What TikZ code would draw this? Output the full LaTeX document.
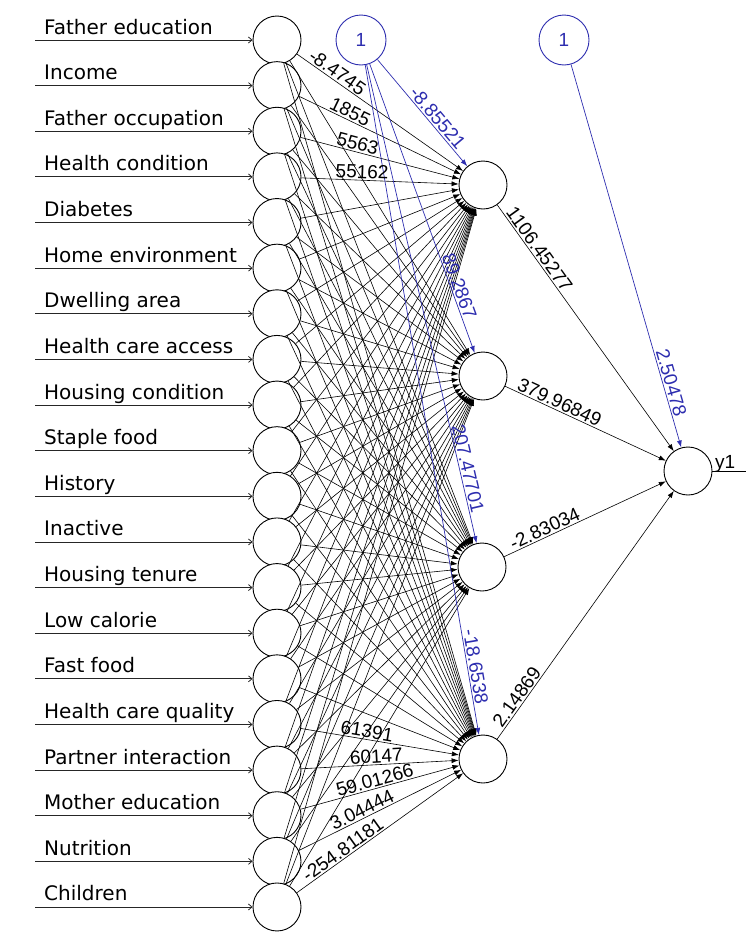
\documentclass[tikz,border=0pt]{standalone}
\usepackage{fontspec}
\setmainfont{Liberation Sans}
\newfontfamily\labfont{DejaVu Sans}
\usetikzlibrary{arrows.meta,calc}
\definecolor{biasblue}{RGB}{45,45,175}
\newcommand\putw[6]{\path let \p1=($(#4)-(#3)$), \n1={atan2(\y1,\x1)} in node[#1,rotate=\n1] (#2) at ($(#3)!#5!(#4)$) {#6};}
\begin{document}
\begin{tikzpicture}[x=1pt,y=-1pt,
  neuron/.style={circle,draw=black,line width=0.9pt,fill=white,minimum size=48pt,inner sep=0pt},
  biasnode/.style={circle,draw=biasblue,line width=0.9pt,fill=white,minimum size=50pt,inner sep=0pt,text=biasblue,font=\fontsize{19}{22}\selectfont},
  syn/.style={draw=black,line width=0.6pt,-{Latex[length=7pt,width=5pt]}},
  bsyn/.style={draw=biasblue,line width=0.7pt,-{Latex[length=7pt,width=5pt]}},
  inarrow/.style={draw=black!85,line width=0.8pt,-{Straight Barb[length=3.5pt,width=6pt]}},
  inlabel/.style={font=\labfont\fontsize{20}{24}\selectfont,anchor=base west,inner sep=0pt},
  wlab/.style={font=\fontsize{19}{22}\selectfont,inner sep=1.5pt},
  ws/.style={wlab,anchor=south west},
  we/.style={wlab,anchor=south east},
  bws/.style={ws,text=biasblue},
]
\useasboundingbox (0,0) rectangle (746,940);
% input layer
\foreach \t [count=\i] in {Father education,Income,Father occupation,Health condition,Diabetes,Home environment,Dwelling area,Health care access,Housing condition,Staple food,History,Inactive,Housing tenure,Low calorie,Fast food,Health care quality,Partner interaction,Mother education,Nutrition,Children}{
  \pgfmathsetmacro\yy{40+45.63*(\i-1)}
  \node[neuron] (in\i) at (277,\yy) {};
  \coordinate (s\i) at (35,\yy);
  \node[inlabel] (lab\i) at (44,\yy-6) {\t};
  \draw[inarrow] (s\i) -- (in\i);
}
% hidden layer
\node[neuron] (h1) at (483,185) {};
\node[neuron] (h2) at (483,376) {};
\node[neuron] (h3) at (482,567) {};
\node[neuron] (h4) at (483,759) {};
% output
\node[neuron] (out) at (688,471) {};
% bias
\node[biasnode] (b1) at (361,40) {1};
\node[biasnode] (b2) at (564,40) {1};
% synapses
\foreach \i in {1,...,20}{\foreach \k in {1,...,4}{\draw[syn] (in\i) -- (h\k);}}
\foreach \k in {1,...,4}{\draw[bsyn] (b1) -- (h\k); \draw[syn] (h\k) -- (out);}
\draw[bsyn] (b2) -- (out);
% output line
\coordinate (yend) at (746,471);
\draw[line width=0.8pt] (out) -- (yend);
\node[wlab,anchor=base west,inner sep=0pt] (ylab) at (715,468) {y1};
% weight labels input -> hidden (legible ones)
\putw{ws}{w11}{in1}{h1}{34pt}{-8.4745}
\putw{we}{w21}{in2}{h1}{100pt}{1855}
\putw{we}{w31}{in3}{h1}{104pt}{5563}
\putw{we}{w41}{in4}{h1}{113pt}{55162}
\putw{we}{w164}{in16}{h4}{118pt}{61391}
\putw{we}{w174}{in17}{h4}{128pt}{60147}
\putw{we}{w184}{in18}{h4}{145pt}{59.01266}
\putw{we}{w194}{in19}{h4}{135pt}{3.04444}
\putw{ws}{w204}{in20}{h4}{38pt}{-254.81181}
% hidden -> output
\putw{ws}{v1}{h1}{out}{34pt}{1106.45277}
\putw{ws}{v2}{h2}{out}{34pt}{379.96849}
\putw{ws}{v3}{h3}{out}{34pt}{-2.83034}
\putw{ws}{v4}{h4}{out}{34pt}{2.14869}
% bias weights
\putw{bws}{c1}{b1}{h1}{70pt}{-8.85521}
\putw{bws}{c2}{b1}{h2}{229pt}{89.2867}
\putw{bws}{c3}{b1}{h3}{395pt}{207.47701}
\putw{bws}{c4}{b1}{h4}{598pt}{-18.6538}
\putw{bws}{c5}{b2}{out}{323pt}{2.50478}
\end{tikzpicture}
\end{document}
